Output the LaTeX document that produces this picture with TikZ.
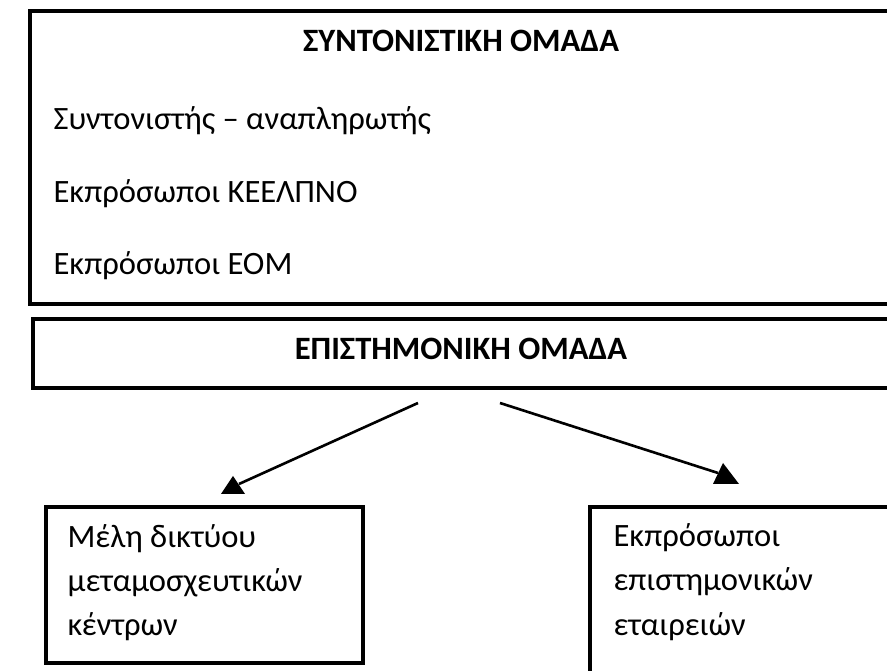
\documentclass[tikz,border=0pt]{standalone}
\usepackage{fontspec}
\setmainfont{Carlito}
\usepackage{tikz}
\usetikzlibrary{positioning,fit}

\begin{document}
\begin{tikzpicture}[
  x=0.34375pt,y=-0.34375pt,
  every node/.style={font=\fontsize{11.2}{13}\selectfont},
  panel/.style={draw=black,line width=1.2pt,inner sep=0pt},
  head/.style={font=\fontsize{11.2}{13}\selectfont\bfseries,anchor=base,inner sep=0pt},
  entry/.style={anchor=base west,inner sep=0pt},
  arr/.style={line width=0.9pt,color=black},
  tiphead/.style={fill=black}
]
  \useasboundingbox (0,0) rectangle (887,671);
  \clip (0,0) rectangle (887,671);

  % coordination group
  \node[panel,fit={(30,11) (893,304)}] (coord) {};
  \node[head] (coordtitle) at (461,52) {ΣΥΝΤΟΝΙΣΤΙΚΗ ΟΜΑΔΑ};
  \node[entry] (coordone) at (53,130) {Συντονιστής – αναπληρωτής};
  \node[entry] (coordtwo) at (53,203) {Εκπρόσωποι ΚΕΕΛΠΝΟ};
  \node[entry] (coordthree) at (53,275) {Εκπρόσωποι ΕΟΜ};

  % scientific group
  \node[panel,fit={(33,319) (890,388)}] (sci) {};
  \node[head] (scititle) at (461,360) {ΕΠΙΣΤΗΜΟΝΙΚΗ ΟΜΑΔΑ};

  % members
  \node[panel,fit={(46,507) (363,663)}] (centres) {};
  \node[entry] (centresone) at (67,548) {Μέλη δικτύου};
  \node[entry] (centrestwo) at (67,592) {μεταμοσχευτικών};
  \node[entry] (centresthree) at (67,636) {κέντρων};

  \node[panel,fit={(590,507) (900,700)}] (societies) {};
  \node[entry] (societiesone) at (613,547) {Εκπρόσωποι};
  \node[entry] (societiestwo) at (613,591) {επιστημονικών};
  \node[entry] (societiesthree) at (613,636) {εταιρειών};

  % arrows
  \coordinate (fromL) at (418,403);
  \coordinate (fromR) at (500,403);
  \coordinate (toL) at (233,494);
  \coordinate (toR) at (726,484);
  \draw[arr] (fromL) -- ([shift={(6,-10)}]toL);
  \draw[arr] (fromR) -- ([shift={(-8,-11)}]toR);
  \fill[tiphead] (toL) +(-12,0) -- +(12,0) -- +(0,-18) -- cycle;
  \fill[tiphead] (toR) +(-13,0) -- +(13,0) -- +(-3,-21) -- cycle;
\end{tikzpicture}
\end{document}
